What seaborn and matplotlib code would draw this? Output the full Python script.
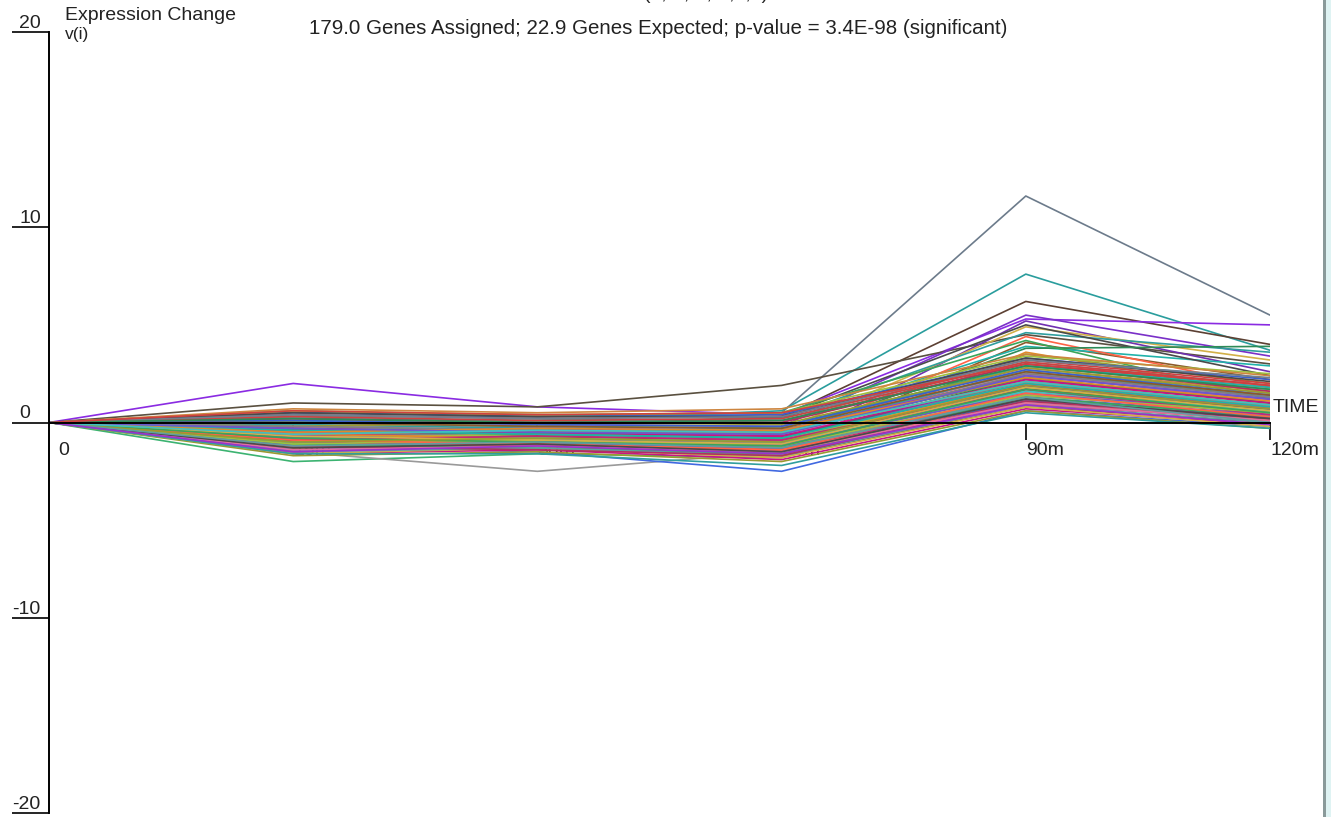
import numpy as np
import pandas as pd
import matplotlib
matplotlib.use('Agg')
import matplotlib.pyplot as plt
import seaborn as sns
from matplotlib.patches import Rectangle

# ---------------- data ----------------
time_labels = ['0', '15m', '30m', '60m', '90m', '120m']

t15 = [0.3, 0.2, 0.5, 2.0, 1.0, -2.0, -1.5, -1.2, -0.5, -0.8,
       -0.3, 0.1, -1.0, 0.4, -0.6, -1.2, 0.0, -0.4, 0.6, -0.9,
       -0.5, -1.1, 0.2, -0.8, -1.4, -0.2, 0.5, -0.9, -1.6, -0.3,
       -0.7, 0.0, -1.2, -0.4, 0.6, -1.0, -0.6, -1.5, 0.3, -0.1,
       -0.8, -1.3, -0.5, 0.1, -1.7, -0.9, -0.2, 0.4, -1.1, -0.6,
       -0.4, -1.4, 0.2, -0.7, -1.0, -0.3, 0.7, -1.2, -0.5, -0.8,
       -1.6, -0.1, -0.9, 0.0, -1.3, -0.6, 0.5, -0.4, -1.1, -0.2,
       -0.7, -1.5, 0.3, -1.0, -0.5, -0.8, 0.1, -1.2, -0.3, -0.9,
       -1.4, -0.6, 0.4, -0.2, -1.1, -0.7, -1.6, 0.0, -0.4, -0.9,
       -0.5, -1.3, 0.2, -0.8, -1.0, -0.3, -1.2, 0.6, -0.6, -1.5]

t30 = [0.3, 0.1, 0.4, 0.8, 0.8, -1.6, -2.5, -1.5, -0.6, -0.9,
       -0.5, 0.0, -1.1, 0.2, -0.8, -1.3, -0.2, -0.6, 0.3, -1.0,
       -0.6, -0.9, 0.0, -1.0, -1.2, -0.4, 0.3, -0.7, -1.4, -0.5,
       -0.5, -0.2, -1.3, -0.3, 0.4, -0.8, -0.9, -1.2, 0.1, -0.3,
       -1.0, -1.1, -0.3, -0.1, -1.5, -1.1, -0.4, 0.2, -0.9, -0.8,
       -0.6, -1.2, 0.0, -0.5, -1.2, -0.1, 0.5, -1.0, -0.7, -0.6,
       -1.3, -0.3, -0.7, -0.2, -1.1, -0.8, 0.3, -0.6, -1.3, 0.0,
       -0.9, -1.3, 0.1, -0.8, -0.3, -1.0, -0.1, -1.4, -0.5, -0.7,
       -1.2, -0.4, 0.2, -0.4, -0.9, -0.9, -1.6, -0.2, -0.6, -1.1,
       -0.3, -1.1, 0.0, -1.0, -0.8, -0.5, -1.0, 0.4, -0.4, -1.2]

t60 = [0.5, 0.6, 0.3, 0.4, 1.9, -1.8, -1.5, -2.5, -0.2, -1.1,
       -0.4, 0.2, -1.3, 0.0, -0.9, -1.8, 0.3, -0.7, 0.5, -1.4,
       -0.8, -1.2, 0.1, -1.3, -1.5, -0.6, 0.4, -0.9, -1.9, -0.7,
       -0.6, -0.3, -1.6, -0.4, 0.5, -1.1, -1.2, -1.7, 0.2, -0.5,
       -1.2, -1.4, -0.5, -0.2, -2.0, -1.3, -0.6, 0.3, -1.0, -1.1,
       -0.8, -1.5, 0.0, -0.7, -1.4, -0.2, 0.7, -1.3, -0.9, -0.8,
       -1.8, -0.4, -1.0, -0.3, -1.4, -1.0, 0.3, -0.8, -1.6, -0.1,
       -1.1, -1.7, 0.2, -1.0, -0.4, -1.3, -0.2, -1.7, -0.7, -0.9,
       -1.5, -0.5, 0.3, -0.6, -1.2, -1.1, -2.2, -0.3, -0.8, -1.4,
       -0.4, -1.5, 0.1, -1.2, -1.0, -0.6, -1.3, 0.5, -0.5, -1.6]

t90 = [11.6, 7.6, 6.2, 5.3, 4.5, 1.2, 1.0, 0.6, 5.5, 5.2,
       4.9, 4.6, 4.1, 3.9, 4.4, 3.6, 5.0, 3.8, 4.2, 3.5,
       2.1, 1.4, 3.0, 1.2, 0.9, 2.5, 3.3, 1.7, 0.7, 2.2,
       1.9, 2.8, 1.1, 2.4, 3.4, 1.5, 1.8, 0.8, 3.1, 2.6,
       1.6, 1.0, 2.3, 2.9, 0.6, 1.3, 2.7, 3.2, 1.6, 2.0,
       2.2, 1.1, 3.0, 1.9, 1.2, 2.5, 3.5, 1.4, 2.1, 1.8,
       0.8, 2.6, 1.7, 2.9, 1.0, 2.0, 3.3, 2.3, 1.3, 2.8,
       1.5, 0.9, 3.1, 1.6, 2.4, 1.9, 2.7, 1.1, 2.2, 1.7,
       1.0, 2.1, 3.2, 2.5, 1.4, 1.8, 0.5, 2.6, 2.0, 1.5,
       2.3, 1.2, 2.9, 1.7, 1.9, 2.4, 1.3, 3.0, 2.1, 0.9]

t120 = [5.5, 3.7, 4.0, 5.0, 3.0, 0.4, 0.2, -0.2, 3.4, 2.6,
        3.2, 3.6, 2.2, 2.9, 1.8, 1.5, 2.4, 3.9, 1.2, 2.0,
        1.1, 0.6, 1.8, 0.4, 0.2, 1.3, 2.2, 0.9, -0.1, 1.0,
        0.8, 1.6, 0.3, 1.2, 2.5, 0.7, 0.5, 0.0, 1.9, 1.4,
        0.6, 0.1, 1.0, 1.7, -0.3, 0.4, 1.5, 2.0, 0.7, 0.9,
        1.2, 0.3, 1.6, 0.8, 0.2, 1.1, 2.4, 0.5, 0.9, 0.6,
        -0.2, 1.3, 0.7, 1.8, 0.1, 0.8, 2.1, 1.0, 0.3, 1.5,
        0.5, 0.0, 1.9, 0.6, 1.2, 0.7, 1.4, 0.2, 1.0, 0.4,
        0.1, 0.9, 2.3, 1.3, 0.5, 0.6, -0.3, 1.4, 0.8, 0.3,
        1.1, 0.2, 1.7, 0.5, 0.7, 1.2, 0.0, 1.9, 0.9, -0.1]

y_ticks = [-20, -10, 0, 10, 20]
title_text = 'Profile #18 (0,-1,-1,-1,4,3)'
subtitle_text = '179.0 Genes Assigned; 22.9 Genes Expected; p-value = 3.4E-98 (significant)'

# ---------------- build long table ----------------
n_genes = len(t15)
rows = []
for g in range(n_genes):
    vals = [0.0, t15[g], t30[g], t60[g], t90[g], t120[g]]
    for ti, v in enumerate(vals):
        rows.append({'gene': g, 'time': ti, 'value': v})
df = pd.DataFrame(rows)

special_colors = ['#6c7b8b', '#2a9d9d', '#5c4033', '#8a2be2', '#5a5040',
                  '#3cb371', '#9a9a9a', '#4169e1', '#7a30c8', '#7030b0']
band_colors = ['#7b3fbf', '#3aa55a', '#2f9e9e', '#c0287a', '#d04040',
               '#e08a2a', '#808080', '#3a5fcd', '#9a9a30', '#8b5a2b',
               '#e070a0', '#40c0c0', '#4a4a4a', '#a0c040', '#b03060',
               '#6a5acd', '#20b2aa', '#cd853f', '#9932cc', '#2e8b57',
               '#d2b048', '#c71585', '#5f9ea0', '#ff6347', '#708090']
palette = {}
for g in range(n_genes):
    if g < len(special_colors):
        palette[g] = special_colors[g]
    else:
        palette[g] = band_colors[(g * 7) % len(band_colors)]

# ---------------- figure ----------------
sns.set_theme(style='white')
plt.rcParams['font.family'] = ['Liberation Sans', 'DejaVu Sans']

W, H = 1331, 817
fig = plt.figure(figsize=(W / 100, H / 100), dpi=100)
fig.patch.set_facecolor('white')
ax = fig.add_axes([49 / W, 4 / H, (1270 - 49) / W, (813 - 32) / H])
ax.set_facecolor('white')

sns.lineplot(data=df, x='time', y='value', hue='gene', palette=palette,
             legend=False, linewidth=1.2, sort=False, estimator=None,
             ax=ax, zorder=3)

ax.set_xlim(0, 5)
ax.set_ylim(-20, 20)
ax.set_xlabel('')
ax.set_ylabel('')

for s in ['top', 'right']:
    ax.spines[s].set_visible(False)
ax.spines['bottom'].set_position(('data', 0))
for s in ['bottom', 'left']:
    ax.spines[s].set_color('black')
    ax.spines[s].set_linewidth(1.4)
    ax.spines[s].set_zorder(4)

ax.set_xticks([1, 2, 3, 4, 5])
ax.set_xticklabels([])
ax.tick_params(axis='x', direction='out', length=12, width=1.2, color='black', bottom=True)

ax.set_yticks(y_ticks)
ax.set_yticklabels([])
ax.tick_params(axis='y', direction='out', length=26.6, width=1.2, color='black', left=True)

# y tick labels sit on top of their tick lines
ytrans = ax.get_yaxis_transform()
for v in y_ticks:
    x_px = 12 if v < 0 else 19
    ax.text((x_px - 49) / (1270 - 49), v, str(v), transform=ytrans,
            ha='left', va='bottom', fontsize=14, color='#222222', clip_on=False)

# x labels (drawn beneath the gene lines)
for i, lab in enumerate(time_labels):
    xpos = i + (0.037 if i == 0 else 0.0)
    ax.text(xpos, -1.41, lab, ha='left', va='center', fontsize=14,
            color='#222222', zorder=1, clip_on=False)

ax.text(5.012, 0.79, 'TIME', ha='left', va='center', fontsize=14,
        color='#222222', clip_on=False)

# header texts
fig.text(65 / W, 1 - 16 / H, 'Expression Change', ha='left', va='center',
         fontsize=14, color='#222222')
fig.text(65 / W, 1 - 34 / H, 'v(i)', ha='left', va='center',
         fontsize=12.5, color='#222222')
fig.text(658 / W, 1 - 28 / H, subtitle_text, ha='center', va='center',
         fontsize=14.8, color='#222222')
fig.text(657 / W, 1 + 1 / H, title_text, ha='center', va='baseline',
         fontsize=14, color='#222222')

# right window border
fig.add_artist(Rectangle((1323 / W, 0), 3 / W, 1, transform=fig.transFigure,
                         facecolor='#8a9a9a', edgecolor='none'))
fig.add_artist(Rectangle((1326 / W, 0), 5 / W, 1, transform=fig.transFigure,
                         facecolor='#dff3f3', edgecolor='none'))

fig.savefig('out.png', dpi=100)
